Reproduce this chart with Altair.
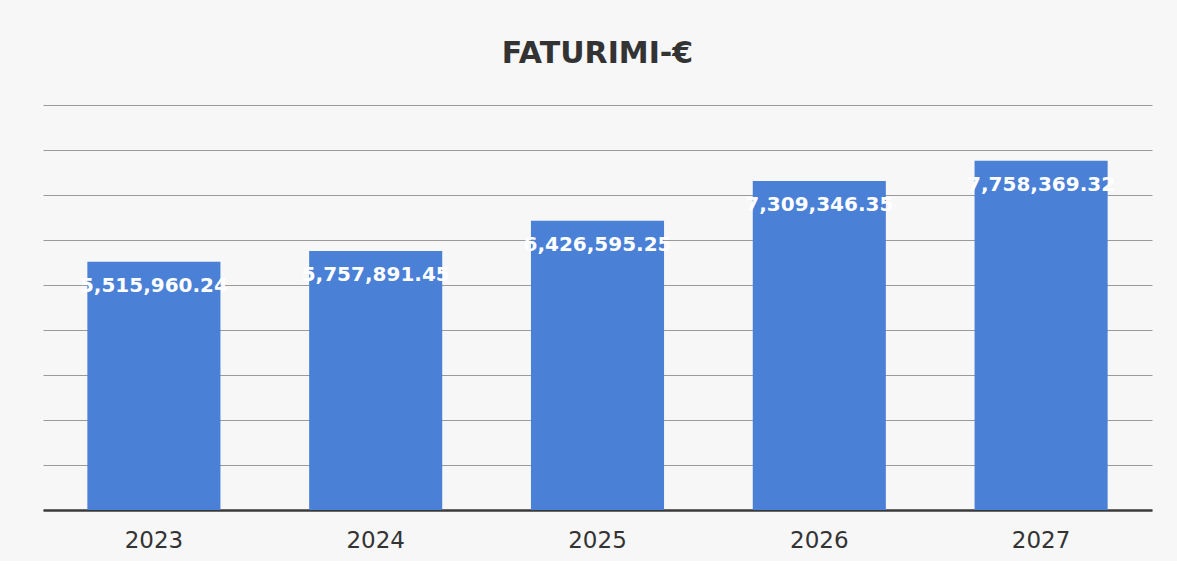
import altair as alt
import pandas as pd

years = ["2023", "2024", "2025", "2026", "2027"]
values = [5515960.24, 5757891.45, 6426595.25, 7309346.35, 7758369.32]
labels = ["5,515,960.24", "5,757,891.45", "6,426,595.25", "7,309,346.35", "7,758,369.32"]
grid_ticks = [1000000 * i for i in range(0, 10)]

df = pd.DataFrame({"year": years, "value": values, "label": labels})

x = alt.X("year:N", sort=years, title=None,
          scale=alt.Scale(paddingInner=0.4, paddingOuter=0.2),
          axis=alt.Axis(labelAngle=0, labelFontSize=23, labelColor="#333333",
                        labelFont="DejaVu Sans", labelPadding=19, ticks=False,
                        domainColor="#3a3a3a", domainWidth=2.5))
y = alt.Y("value:Q", title=None,
          scale=alt.Scale(domain=[0, 9000000], nice=False),
          axis=alt.Axis(values=grid_ticks, labels=False, ticks=False, domain=False,
                        grid=True, gridColor="#9a9a9a", gridWidth=1.2))

bars = alt.Chart(df).mark_bar(color="#4a80d6").encode(x=x, y=y)

text = alt.Chart(df).mark_text(
    color="white", fontSize=20, fontWeight="bold", font="DejaVu Sans",
    baseline="middle", dy=24
).encode(x=alt.X("year:N", sort=years), y="value:Q", text="label:N")

chart = (bars + text).properties(
    width=1109, height=405,
    title=alt.TitleParams("FATURIMI-€", fontSize=30, fontWeight="bold",
                          font="DejaVu Sans", color="#333333", offset=36, anchor="middle"),
    background="#f7f7f7",
    padding={"left": 43, "top": 105, "right": 25, "bottom": 51},
    autosize=alt.AutoSizeParams(type="none"),
).configure_view(stroke=None)

chart.save("out.html", embed_options={"renderer": "svg", "actions": False})
